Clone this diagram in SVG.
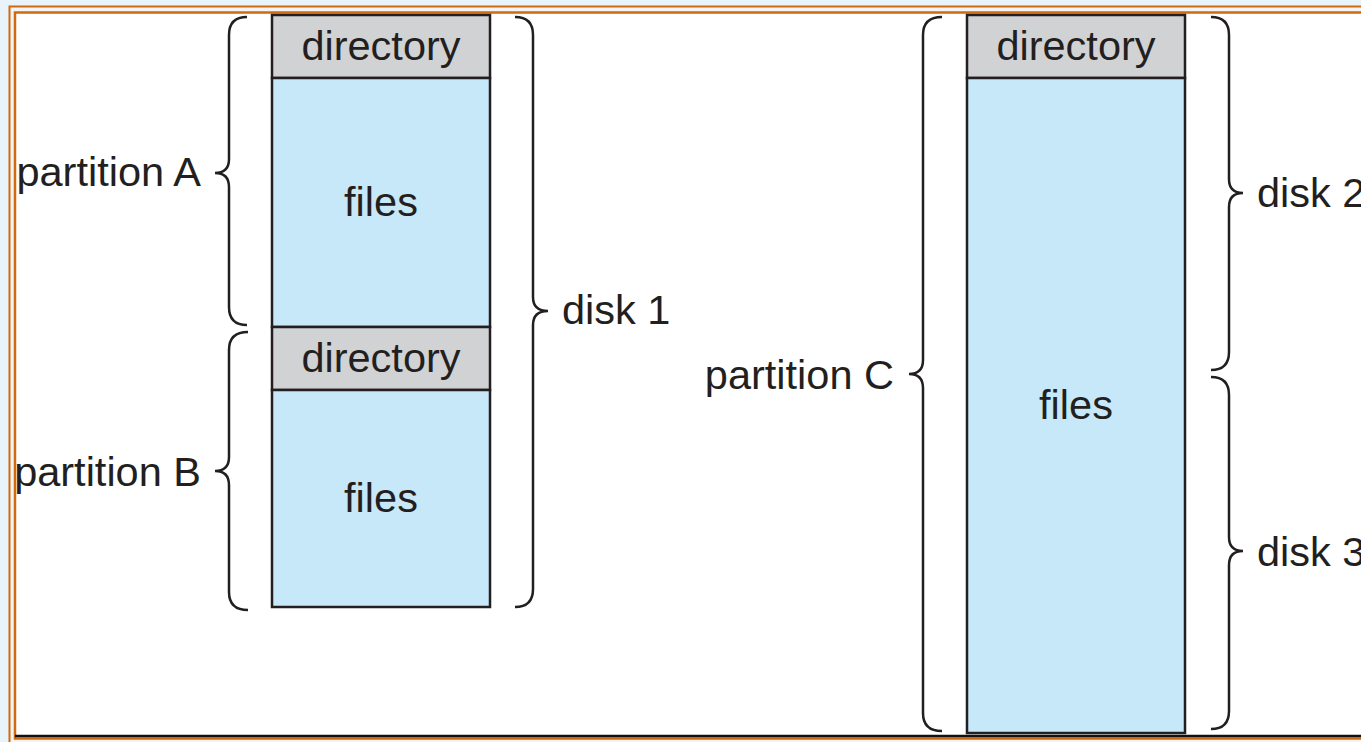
<svg xmlns="http://www.w3.org/2000/svg" width="1361" height="742" viewBox="0 0 1361 742">
<style>
.dir{fill:#d1d2d4;stroke:#231f20;stroke-width:2.5}
.fil{fill:#c7e8f9;stroke:#231f20;stroke-width:2.5}
.brace{fill:none;stroke:#231f20;stroke-width:2.5}
text{font-family:"Liberation Sans",Arial,sans-serif;font-size:41.5px;fill:#231f20}
.c{text-anchor:middle}
.e{text-anchor:end}
</style>
<rect x="0" y="0" width="1361" height="742" fill="#e8f3fa"/>
<rect x="9.5" y="6.5" width="1400" height="740" fill="#f4f4f4" stroke="#cf6a10" stroke-width="2"/>
<rect x="15" y="12.5" width="1400" height="726" fill="#ffffff" stroke="#cf6a10" stroke-width="2.5"/>
<line x1="15" y1="736" x2="1361" y2="736" stroke="#111" stroke-width="2.5"/>

<g id="diskA">
<rect class="dir" x="272" y="15" width="218" height="63"/>
<text class="c" x="381" y="60">directory</text>
<rect class="fil" x="272" y="78" width="218" height="249"/>
<text class="c" x="381" y="216">files</text>
</g>
<g id="diskB">
<rect class="dir" x="272" y="327" width="218" height="63"/>
<text class="c" x="381" y="372">directory</text>
<rect class="fil" x="272" y="390" width="218" height="217"/>
<text class="c" x="381" y="512">files</text>
</g>
<g id="diskC">
<rect class="dir" x="967" y="15" width="218" height="63"/>
<text class="c" x="1076" y="60">directory</text>
<rect class="fil" x="967" y="78" width="218" height="655"/>
<text class="c" x="1076" y="419">files</text>
</g>

<g id="braces">
<path class="brace" d="M247,17 Q229,17 229,35 V159 Q229,173 215,173 Q229,173 229,187 V307 Q229,325 247,325"/>
<path class="brace" d="M248,332 Q229,332 229,350 V457 Q229,471 215,471 Q229,471 229,485 V592 Q229,610 248,610"/>
<path class="brace" d="M515,17 Q533,17 533,35 V297 Q533,311 548,311 Q533,311 533,325 V589 Q533,607 515,607"/>
<path class="brace" d="M942,17 Q923,17 923,35 V360 Q923,374 909,374 Q923,374 923,388 V713 Q923,731 942,731"/>
<path class="brace" d="M1211,17 Q1229,17 1229,35 V179 Q1229,193 1243,193 Q1229,193 1229,207 V352 Q1229,370 1211,370"/>
<path class="brace" d="M1211,377 Q1229,377 1229,395 V537 Q1229,551 1243,551 Q1229,551 1229,565 V711 Q1229,729 1211,729"/>
</g>

<g id="labels">
<text class="e" x="201" y="186">partition A</text>
<text class="e" x="201" y="486">partition B</text>
<text x="562" y="324">disk 1</text>
<text class="e" x="894" y="389">partition C</text>
<text x="1257" y="207">disk 2</text>
<text x="1257" y="566">disk 3</text>
</g>
</svg>
